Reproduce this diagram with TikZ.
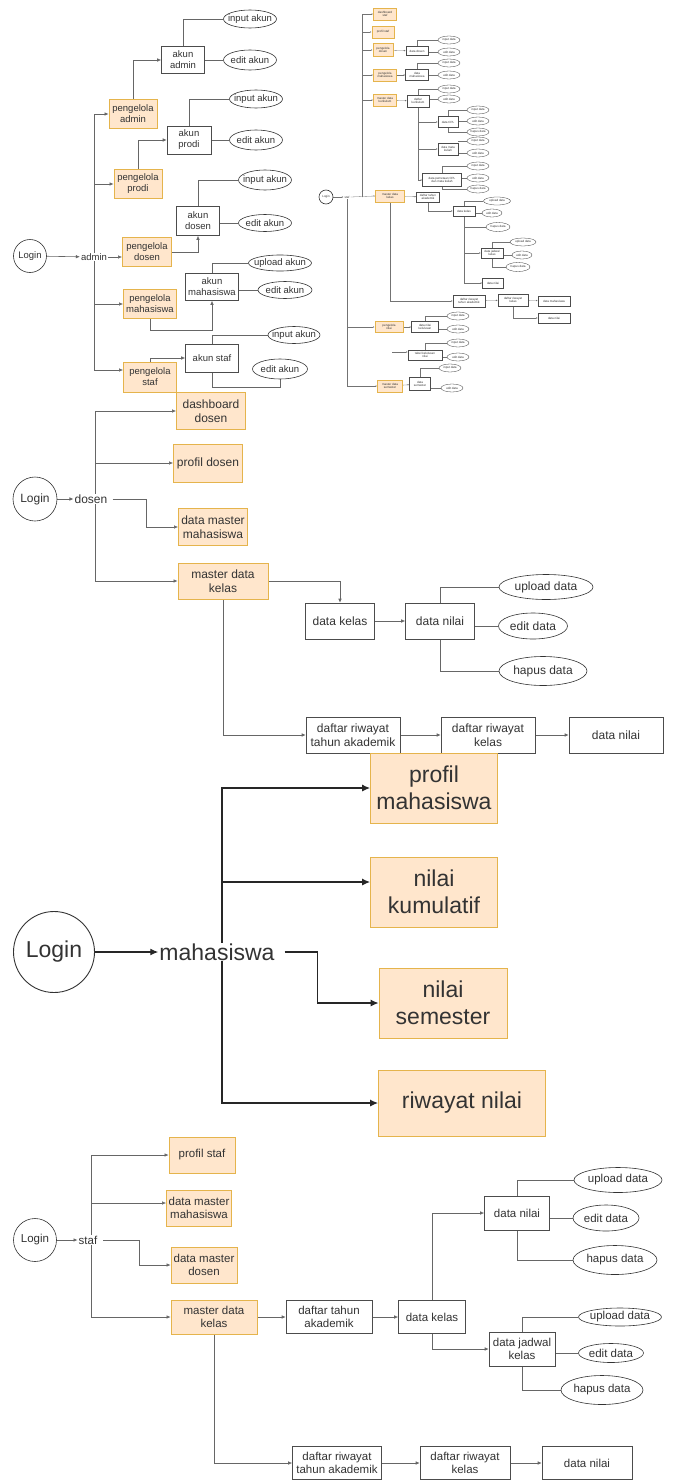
\documentclass[tikz,border=0pt]{standalone}
\usepackage{fontspec}
\setmainfont{Liberation Sans}
\usetikzlibrary{positioning,shapes.geometric,arrows.meta,backgrounds}
\definecolor{menufill}{HTML}{FFE6CC}
\definecolor{menuline}{HTML}{E5B44C}
\definecolor{txt}{HTML}{333333}

\begin{document}
\begin{tikzpicture}[x=1pt, y=-1pt, >={Latex[length=4pt,width=3.5pt]},
    every node/.style={text=txt},
    sz/.style 2 args={minimum width=#1pt, minimum height=#2pt},
    menu/.style={draw=menuline, fill=menufill, line width=0.8pt, align=center, inner sep=0.5pt},
    page/.style={draw=black!70, fill=white, line width=0.6pt, align=center, inner sep=0.5pt},
    act/.style={ellipse, draw=black!80, fill=white, line width=0.6pt, inner xsep=-6pt, inner ysep=-2pt},
    login/.style={circle, draw=black!80, fill=white, line width=0.6pt, inner sep=0pt},
    role/.style={fill=white, inner sep=1pt},
    wire/.style={draw=black!60, line width=0.6pt},
    bigwire/.style={draw=black!85, line width=1.2pt, >={Latex[length=8pt,width=7pt]}},
    mini/.style={font=\fontsize{3}{3.4}\selectfont, line width=0.3pt, inner sep=0.2pt},
    miniact/.style={act, mini, sz={22}{8}, inner xsep=-1.5pt, inner ysep=-1pt},
    miniwire/.style={draw=black!55, line width=0.3pt, >={Latex[length=1.5pt,width=1.4pt]}}]
\useasboundingbox (0,0) rectangle (672,1480);

% admin
\begin{scope}[nodes={font=\fontsize{9.5}{11}\selectfont}]
\node[login, minimum size=33pt] (la) at (30,256) {Login};
\node[role] (adm) at (94,257) {admin};
\node[menu, sz={48}{29}] (pa) at (133,114) {pengelola\\admin};
\node[page, sz={43}{27}] (aa) at (183,60) {akun\\admin};
\node[act, sz={53}{18}] (aa1) at (250,19) {input akun};
\node[act, sz={53}{20}] (aa2) at (250,60) {edit akun};
\node[menu, sz={48}{29}] (pp) at (138,184) {pengelola\\prodi};
\node[page, sz={44}{28}] (ap) at (189,140) {akun\\prodi};
\node[act, sz={53}{18}] (ap1) at (256,99) {input akun};
\node[act, sz={53}{20}] (ap2) at (256,140) {edit akun};
\node[menu, sz={49}{29}] (pd) at (147,252) {pengelola\\dosen};
\node[page, sz={43}{29}] (ad) at (198,221) {akun\\dosen};
\node[act, sz={53}{20}] (ad1) at (265,180) {input akun};
\node[act, sz={53}{17}] (ad2) at (265,223) {edit akun};
\node[menu, sz={53}{29}] (pm) at (150,304) {pengelola\\mahasiswa};
\node[page, sz={53}{27}] (am) at (212,287) {akun\\mahasiswa};
\node[act, sz={63}{16}] (am1) at (280,263) {upload akun};
\node[act, sz={54}{17}] (am2) at (285,290) {edit akun};
\node[menu, sz={53}{30}] (pst) at (150,377) {pengelola\\staf};
\node[page, sz={53}{28}] (ast) at (212,358) {akun staf};
\node[act, sz={52}{17}] (as1) at (294,335) {input akun};
\node[act, sz={55}{20}] (as2) at (280,369) {edit akun};
\end{scope}
\begin{scope}[on background layer]
\draw[wire,->] (la) -- (adm);
\draw[wire,->] (adm.center) |- (pa);
\draw[wire,->] (adm.center) |- (pp);
\draw[wire,->] (adm.east) -- (adm.east -| pd.west);
\draw[wire,->] (adm.center) |- (pm);
\draw[wire,->] (adm.center) |- ([yshift=7pt]pst.west);
\draw[wire,->] (pa.north) |- (aa.west);
\draw[wire] (aa.north) |- (aa1.west);
\draw[wire] (aa) -- (aa2);
\draw[wire,->] (pp.north) |- (ap.west);
\draw[wire] (ap.north) |- (ap1.west);
\draw[wire] (ap) -- (ap2);
\draw[wire,->] (pd.east) -| (ad.south);
\draw[wire] (ad.north) |- (ad1.west);
\draw[wire] (ad2.west -| ad.east) -- (ad2.west);
\draw[wire,->] (pm.south) -- ++(0,11) -| (am.south);
\draw[wire] (am.north) |- (am1.west);
\draw[wire] (am2.west -| am.east) -- (am2.west);
\draw[wire,->] (pst.north) |- (ast.west);
\draw[wire] (ast.north) |- (as1.west);
\draw[wire] (ast.south) -- ++(0,15) -| (as2.south);
\end{scope}

% dosen
\begin{scope}[nodes={font=\fontsize{12}{14}\selectfont}]
\node[login, minimum size=44pt] (ld) at (35,499) {Login};
\node[role] (dsn) at (91,499) {dosen};
\node[menu, sz={69}{37}] (dd) at (211,411) {dashboard\\dosen};
\node[menu, sz={69}{38}] (dp) at (208,463) {profil dosen};
\node[menu, sz={69}{37}] (dm) at (213,527) {data master\\mahasiswa};
\node[menu, sz={90}{36}] (dk) at (223,581) {master data\\kelas};
\node[page, sz={69}{36}] (dkl) at (340,621) {data kelas};
\node[page, sz={69}{36}] (dnl) at (440,621) {data nilai};
\node[act, sz={94}{25}] (dn1) at (546,587) {upload data};
\node[act, sz={69}{26}] (dn2) at (533,626) {edit data};
\node[act, sz={88}{29}] (dn3) at (543,671) {hapus data};
\node[page, sz={94}{36}] (dr1) at (353,735) {daftar riwayat\\tahun akademik};
\node[page, sz={94}{36}] (dr2) at (488,735) {daftar riwayat\\kelas};
\node[page, sz={94}{36}] (dr3) at (616,735) {data nilai};
\end{scope}
\begin{scope}[on background layer]
\draw[wire,->] (ld) -- (dsn);
\draw[wire,->] ([xshift=4pt]dsn.center) |- (dd.west);
\draw[wire,->] ([xshift=4pt]dsn.center) |- (dp.west);
\draw[wire,->] ([xshift=4pt]dsn.center) |- (dk.west);
\draw[wire,->] ([xshift=4pt]dsn.east) -| ([xshift=-32pt]dm.west) -- (dm.west);
\draw[wire,->] (dk.east) -| (dkl.north);
\draw[wire,->] (dkl) -- (dnl);
\draw[wire] (dnl.north) |- (dn1.west);
\draw[wire] (dn2.west -| dnl.east) -- (dn2.west);
\draw[wire] (dnl.south) |- (dn3.west);
\draw[wire,->] (dk.south) |- (dr1.west);
\draw[wire,->] (dr1) -- (dr2);
\draw[wire,->] (dr2) -- (dr3);
\end{scope}

% mahasiswa
\begin{scope}[nodes={font=\fontsize{23}{27}\selectfont}]
\node[login, minimum size=81pt, line width=0.9pt] (lm) at (54,952) {Login};
\node[role] (mh) at (217,952) {mahasiswa};
\node[menu, sz={127}{70}] (m1) at (434,788) {profil\\mahasiswa};
\node[menu, sz={127}{70}] (m2) at (434,892) {nilai\\kumulatif};
\node[menu, sz={128}{70}] (m3) at (443,1003) {nilai\\semester};
\node[menu, sz={167}{66}] (m4) at (462,1103) {riwayat nilai};
\end{scope}
\begin{scope}[on background layer]
\draw[bigwire,->] (lm) -- (mh);
\draw[bigwire,->] ([xshift=5pt]mh.center) |- (m1.west);
\draw[bigwire,->] ([xshift=5pt]mh.center) |- ([yshift=10pt]m2.west);
\draw[bigwire,->] ([xshift=5pt]mh.center) |- (m4.west);
\draw[bigwire,->] ([xshift=9pt]mh.east) -| ([xshift=-61pt]m3.west) -- (m3.west);
\end{scope}

% staf
\begin{scope}[nodes={font=\fontsize{11.5}{13.5}\selectfont}]
\node[login, minimum size=43pt] (ls) at (35,1240) {Login};
\node[role] (stf) at (88,1240) {staf};
\node[menu, sz={66}{36}] (s1) at (202,1155) {profil staf};
\node[menu, sz={65}{36}] (s2) at (199,1208) {data master\\mahasiswa};
\node[menu, sz={66}{36}] (s3) at (204,1265) {data master\\dosen};
\node[menu, sz={86}{34}] (s4) at (214,1317) {master data\\kelas};
\node[page, sz={86}{33}] (s5) at (329,1317) {daftar tahun\\akademik};
\node[page, sz={67}{33}] (s6) at (432,1317) {data kelas};
\node[page, sz={65}{34}] (s7) at (517,1213) {data nilai};
\node[act, sz={88}{25}] (s71) at (618,1180) {upload data};
\node[act, sz={66}{26}] (s72) at (606,1218) {edit data};
\node[act, sz={84}{29}] (s73) at (615,1260) {hapus data};
\node[page, sz={66}{34}] (s8) at (522,1349) {data jadwal\\kelas};
\node[act, sz={83}{18}] (s81) at (620,1317) {upload data};
\node[act, sz={65}{19}] (s82) at (611,1353) {edit data};
\node[act, sz={82}{29}] (s83) at (602,1390) {hapus data};
\node[page, sz={89}{33}] (s9) at (337,1463) {daftar riwayat\\tahun akademik};
\node[page, sz={90}{33}] (s10) at (465,1463) {daftar riwayat\\kelas};
\node[page, sz={90}{33}] (s11) at (587,1463) {data nilai};
\end{scope}
\begin{scope}[on background layer]
\draw[wire,->] (ls) -- (stf);
\draw[wire,->] ([xshift=3pt]stf.center) |- (s1.west);
\draw[wire,->] ([xshift=3pt]stf.center) |- ([yshift=5pt]s2.west);
\draw[wire,->] ([xshift=3pt]stf.center) |- (s4.west);
\draw[wire,->] ([xshift=5pt]stf.east) -| ([xshift=-31pt]s3.west) -- (s3.west);
\draw[wire,->] (s4) -- (s5);
\draw[wire,->] (s5) -- (s6);
\draw[wire,->] (s6.north) |- (s7.west);
\draw[wire] (s7.north) |- (s71.west);
\draw[wire] (s72.west -| s7.east) -- (s72.west);
\draw[wire] (s7.south) |- (s73.west);
\draw[wire,->] (s6.south) |- (s8.west);
\draw[wire] (s8.north) |- (s81.west);
\draw[wire] (s82.west -| s8.east) -- (s82.west);
\draw[wire] (s8.south) |- (s83.west);
\draw[wire,->] (s4.south) |- (s9.west);
\draw[wire,->] (s9) -- (s10);
\draw[wire,->] (s10) -- (s11);
\end{scope}

% ringkasan staf (kecil)
\begin{scope}[every node/.append style={mini}]
\node[login, minimum size=14pt] (lt) at (326,197) {Login};
\node[role] (tst) at (347,197) {staf};
\node[menu, sz={23}{12}] (t1) at (385,14) {dashboard\\staf};
\node[menu, sz={22}{12}] (t2) at (383,32) {profil staf};
\node[menu, sz={20}{13}] (t3) at (383,50) {pengelola\\dosen};
\node[page, sz={22}{9}] (t31) at (417,51) {data dosen};
\node[miniact] (t311) at (449,40) {input data};
\node[miniact] (t312) at (449,52) {edit data};
\node[menu, sz={23}{12}] (t4) at (385,75) {pengelola\\mahasiswa};
\node[page, sz={23}{11}] (t41) at (417,75) {data\\mahasiswa};
\node[miniact] (t411) at (449,63) {input data};
\node[miniact] (t412) at (449,75) {edit data};
\node[menu, sz={23}{12}] (t5) at (385,100) {master data\\kurikulum};
\node[page, sz={22}{12}] (t51) at (418,101) {daftar\\kurikulum};
\node[miniact] (t511) at (449,89) {input data};
\node[miniact] (t512) at (449,99) {edit data};
\node[page, sz={20}{11}] (t52) at (448,122) {data CPL};
\node[miniact] (t521) at (478,110) {input data};
\node[miniact] (t522) at (478,121) {edit data};
\node[miniact] (t523) at (478,132) {hapus data};
\node[page, sz={20}{12}] (t53) at (448,149) {data mata\\kuliah};
\node[miniact] (t531) at (478,141) {input data};
\node[miniact] (t532) at (478,153) {edit data};
\node[page, sz={39}{13}] (t54) at (442,180) {data pemetaan CPL\\dan mata kuliah};
\node[miniact] (t541) at (478,166) {input data};
\node[miniact] (t542) at (478,178) {edit data};
\node[miniact] (t543) at (478,189) {hapus data};
\node[menu, sz={29}{12}] (t6) at (390,196) {master data\\kelas};
\node[page, sz={23}{10}] (t61) at (428,197) {daftar tahun\\akademik};
\node[page, sz={22}{10}] (t62) at (464,211) {data kelas};
\node[miniact, sz={27}{8}] (t621) at (497,201) {upload data};
\node[miniact, sz={20}{8}] (t622) at (492,213) {edit data};
\node[miniact, sz={24}{9}] (t623) at (498,227) {hapus data};
\node[page, sz={22}{10}] (t63) at (492,253) {data jadwal\\kelas};
\node[miniact, sz={26}{8}] (t631) at (523,242) {upload data};
\node[miniact, sz={20}{8}] (t632) at (522,255) {edit data};
\node[miniact, sz={24}{9}] (t633) at (518,267) {hapus data};
\node[page, sz={21}{10}] (t64) at (493,283) {data nilai};
\node[page, sz={32}{12}] (t65) at (469,301) {daftar riwayat\\tahun akademik};
\node[page, sz={30}{12}] (t66) at (513,300) {daftar riwayat\\kelas};
\node[page, sz={32}{10}] (t67) at (554,301) {data mahasiswa};
\node[page, sz={32}{10}] (t68) at (554,318) {data nilai};
\node[menu, sz={28}{11}] (t7) at (389,327) {pengelola\\nilai};
\node[page, sz={27}{11}] (t71) at (425,327) {data nilai\\kelulusan};
\node[miniact] (t711) at (458,316) {input data};
\node[miniact] (t712) at (458,329) {edit data};
\coordinate (t7x) at (392,352);
\node[page, sz={34}{10}] (t72) at (425,355) {tabel kelulusan\\nilai};
\node[miniact] (t721) at (458,343) {input data};
\node[miniact] (t722) at (458,357) {edit data};
\node[menu, sz={25}{12}] (t8) at (390,386) {master data\\semester};
\node[page, sz={21}{13}] (t81) at (420,384) {data\\semester};
\node[miniact] (t811) at (450,368) {input data};
\node[miniact] (t812) at (452,388) {edit data};
\end{scope}
\begin{scope}[on background layer]
\draw[miniwire,->] (lt) -- (tst);
\draw[miniwire,->] (tst.east) -- (t6.west);
\foreach \t in {t1,t2,t3,t4,t5}
    \draw[miniwire,->] ([xshift=15pt]tst.center) |- (\t.west);
\draw[miniwire,->] (tst.center) |- (t7.west);
\draw[miniwire,->] (tst.center) |- (t8.west);
\foreach \a/\b in {t3/t31,t4/t41,t5/t51,t6/t61,t7/t71,t8/t81,t65/t66,t66/t67}
    \draw[miniwire,->] (\a) -- (\b);
\foreach \a/\b in {t31/t311,t41/t411,t51/t511,t62/t621,t63/t631,t71/t711,t72/t721,t81/t811}
    \draw[miniwire] (\a.north) |- (\b.west);
\foreach \a/\b in {t31/t312,t41/t412,t51/t512,t62/t622,t63/t632,t71/t712,t72/t722,t81/t812,t52/t522,t53/t531,t54/t542}
    \draw[miniwire] (\b.west -| \a.east) -- (\b.west);
\draw[miniwire] (t52.north) |- (t521.west);
\draw[miniwire] (t52.south) |- (t523.west);
\draw[miniwire] (t53.south) |- (t532.west);
\draw[miniwire] (t54.north) |- (t541.west);
\draw[miniwire] (t54.south) |- (t543.west);
\draw[miniwire,->] (t51.south) |- (t52.west);
\draw[miniwire,->] (t51.south) |- (t53.west);
\draw[miniwire,->] (t51.south) |- (t54.west);
\draw[miniwire,->] (t61.south) |- (t62.west);
\draw[miniwire] (t62.south) |- (t623.west);
\draw[miniwire,->] (t62.south) |- (t63.west);
\draw[miniwire,->] (t62.south) |- (t64.west);
\draw[miniwire] (t63.south) |- (t633.west);
\draw[miniwire,->] (t6.south) |- (t65.west);
\draw[miniwire,->] (t66.south) |- (t68.west);
\draw[miniwire,->] (t7x) -- (t7x -| t72.west);
\end{scope}
\end{tikzpicture}
\end{document}
